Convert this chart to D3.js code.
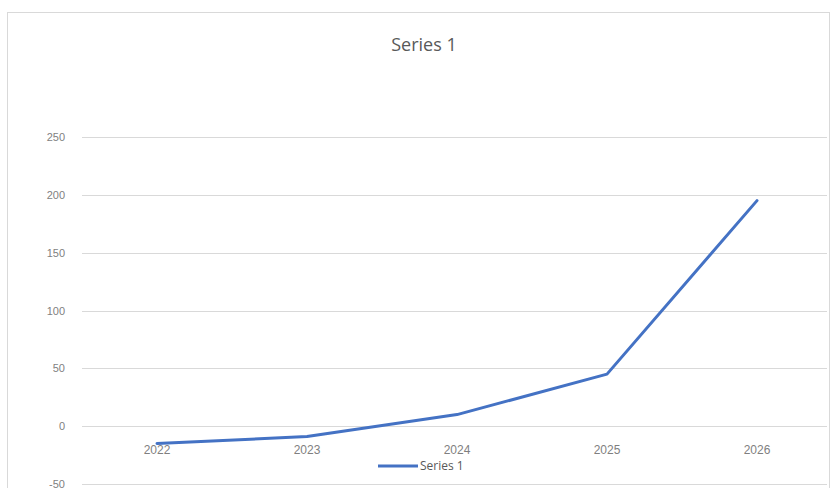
<!DOCTYPE html>
<html lang="en">
<head>
<meta charset="UTF-8">
<title>Series 1</title>
<script src="https://d3js.org/d3.v7.min.js"></script>
<style>
  body { margin: 0; background: #fff; }
  svg { display: block; font-family: "Open Sans", "Liberation Sans", sans-serif; }
</style>
</head>
<body>
<div id="chart"></div>
<script>
  var years = ["2022", "2023", "2024", "2025", "2026"];
  var values = [-15, -9, 10, 45, 195];
  var yTicks = [-50, 0, 50, 100, 150, 200, 250];
  var seriesName = "Series 1";

  var W = 831, H = 488;

  var svg = d3.select("#chart").append("svg")
      .attr("width", W)
      .attr("height", H);

  // chart area border
  svg.append("rect")
      .attr("x", 7.5).attr("y", 12.5)
      .attr("width", 822).attr("height", 500)
      .attr("fill", "#fff")
      .attr("stroke", "#d9d9d9");

  var x = d3.scaleBand()
      .domain(years)
      .range([82, 832]);

  var y = d3.scaleLinear()
      .domain([-50, 250])
      .range([484, 137]);

  // gridlines
  svg.append("g")
      .selectAll("line")
      .data(yTicks)
      .join("line")
      .attr("x1", 82).attr("x2", 827)
      .attr("y1", function (d) { return Math.round(y(d)) + 0.5; })
      .attr("y2", function (d) { return Math.round(y(d)) + 0.5; })
      .attr("stroke", "#d9d9d9")
      .attr("stroke-width", 1);

  // y axis labels
  var yAxis = svg.append("g")
      .attr("transform", "translate(72,0)")
      .call(d3.axisLeft(y).tickValues(yTicks).tickFormat(String).tickSize(0).tickPadding(6));
  yAxis.select(".domain").remove();
  yAxis.selectAll("text")
      .attr("fill", "#7f7f7f")
      .attr("font-size", 11)
      .attr("text-anchor", "end")
      .attr("x", -7);

  // category labels just below the zero line
  var xAxis = svg.append("g")
      .attr("transform", "translate(0," + y(0) + ")")
      .call(d3.axisBottom(x).tickSize(0).tickPadding(19));
  xAxis.select(".domain").remove();
  xAxis.selectAll("text")
      .attr("fill", "#7f7f7f")
      .attr("font-size", 12);

  // line
  var pts = years.map(function (yr, i) { return { year: yr, value: values[i] }; });
  var line = d3.line()
      .x(function (d) { return x(d.year) + x.bandwidth() / 2; })
      .y(function (d) { return y(d.value); });

  svg.append("path")
      .datum(pts)
      .attr("d", line)
      .attr("fill", "none")
      .attr("stroke", "#4472C4")
      .attr("stroke-width", 3)
      .attr("stroke-linejoin", "round")
      .attr("stroke-linecap", "round");

  // title
  svg.append("text")
      .attr("x", 424)
      .attr("y", 51)
      .attr("text-anchor", "middle")
      .attr("font-size", 18)
      .attr("fill", "#595959")
      .text(seriesName);

  // legend
  var legend = svg.append("g").attr("transform", "translate(378,466)");
  legend.append("line")
      .attr("x1", 0).attr("x2", 40)
      .attr("stroke", "#4472C4")
      .attr("stroke-width", 3);
  legend.append("text")
      .attr("x", 42)
      .attr("dy", "0.35em")
      .attr("font-size", 12)
      .attr("fill", "#595959")
      .text(seriesName);
</script>
</body>
</html>
